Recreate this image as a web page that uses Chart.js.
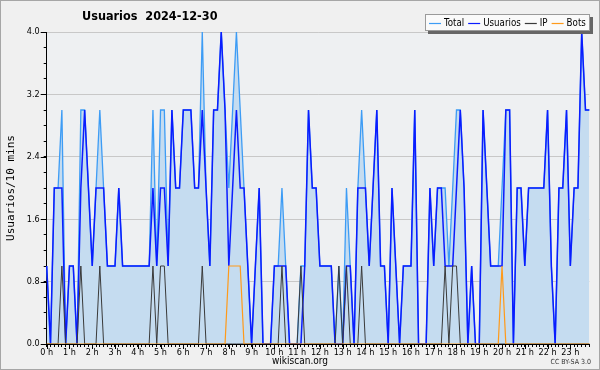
<!DOCTYPE html>
<html><head><meta charset="utf-8">
<script src="https://cdn.jsdelivr.net/npm/chart.js@4.4.1/dist/chart.umd.min.js"></script>
<style>
html,body{margin:0;padding:0;background:#f0f0f0;}
canvas{display:block;}
</style></head><body>
<canvas id="c" width="600" height="370"></canvas>
<script>
const hours = ['0 h','1 h','2 h','3 h','4 h','5 h','6 h','7 h','8 h','9 h','10 h','11 h','12 h','13 h','14 h','15 h','16 h','17 h','18 h','19 h','20 h','21 h','22 h','23 h'];
const slotsPerHour = 6;
const yTickLabels = ['0.0','0.8','1.6','2.4','3.2','4.0'];
const seriesNames = ['Total','Usuarios','IP','Bots'];

const total = [1,0,2,2,3,0,1,1,0,3,3,2,1,2,3,2,1,1,1,2,1,1,1,1,
  1,1,1,1,3,1,3,3,1,3,2,2,3,3,3,2,2,4,2,1,3,3,4,3,
  2,3,4,3,2,1,0,1,2,0,0,0,1,1,2,1,0,0,0,1,1,3,2,2,
  1,1,1,1,0,1,0,2,1,0,2,3,2,1,2,3,1,1,0,2,1,0,1,1,
  1,3,0,0,0,2,1,2,2,2,1,2,3,3,2,0,1,0,0,3,2,1,1,1,
  2,3,3,0,2,2,1,2,2,2,2,2,3,1,0,2,2,3,1,2,2,4,3,3];
const usuarios = [1,0,2,2,2,0,1,1,0,2,3,2,1,2,2,2,1,1,1,2,1,1,1,1,
  1,1,1,1,2,1,2,2,1,3,2,2,3,3,3,2,2,3,2,1,3,3,4,3,
  1,2,3,2,2,1,0,1,2,0,0,0,1,1,1,1,0,0,0,0,1,3,2,2,
  1,1,1,1,0,0,0,1,1,0,2,2,2,1,2,3,1,1,0,2,1,0,1,1,
  1,3,0,0,0,2,1,2,2,1,1,1,2,3,2,0,1,0,0,3,2,1,1,1,
  1,3,3,0,2,2,1,2,2,2,2,2,3,1,0,2,2,3,1,2,2,4,3,3];
const ip = [0,0,0,0,1,0,0,0,0,1,0,0,0,0,1,0,0,0,0,0,0,0,0,0,
  0,0,0,0,1,0,1,1,0,0,0,0,0,0,0,0,0,1,0,0,0,0,0,0,
  0,0,0,0,0,0,0,0,0,0,0,0,0,0,1,0,0,0,0,1,0,0,0,0,
  0,0,0,0,0,1,0,1,0,0,0,1,0,0,0,0,0,0,0,0,0,0,0,0,
  0,0,0,0,0,0,0,0,0,1,0,1,1,0,0,0,0,0,0,0,0,0,0,0,
  0,0,0,0,0,0,0,0,0,0,0,0,0,0,0,0,0,0,0,0,0,0,0,0];
const bots = [0,0,0,0,0,0,0,0,0,0,0,0,0,0,0,0,0,0,0,0,0,0,0,0,
  0,0,0,0,0,0,0,0,0,0,0,0,0,0,0,0,0,0,0,0,0,0,0,0,
  1,1,1,1,0,0,0,0,0,0,0,0,0,0,0,0,0,0,0,0,0,0,0,0,
  0,0,0,0,0,0,0,0,0,0,0,0,0,0,0,0,0,0,0,0,0,0,0,0,
  0,0,0,0,0,0,0,0,0,0,0,0,0,0,0,0,0,0,0,0,0,0,0,0,
  1,0,0,0,0,0,0,0,0,0,0,0,0,0,0,0,0,0,0,0,0,0,0,0];

const slots = [];
hours.forEach(h => { for (let k = 0; k < slotsPerHour; k++) slots.push(h + (k ? ' ' + k * 10 : '')); });

const COLORS = {total:'#3d9cf5', usuarios:'#0a1cff', ip:'#3a3a3a', bots:'#ff9a1a', fill:'#c5dcf0'};
const FONT = '"DejaVu Sans Condensed","DejaVu Sans",sans-serif';

const bgPlugin = {
  id:'bg',
  beforeDraw(chart){
    const {ctx, chartArea:a} = chart;
    ctx.save();
    ctx.fillStyle = '#f0f0f0';
    ctx.fillRect(0,0,chart.width,chart.height);
    ctx.fillStyle = '#eef0f2';
    ctx.fillRect(a.left,a.top,a.right-a.left,a.bottom-a.top);
    ctx.strokeStyle = '#a6a6a6';
    ctx.lineWidth = 1;
    ctx.strokeRect(0.5,0.5,chart.width-1,chart.height-1);
    ctx.restore();
  },
  afterDraw(chart){
    const {ctx, chartArea:a} = chart;
    const ys = chart.scales.y, xs = chart.scales.x;
    ctx.save();
    ctx.strokeStyle = '#000'; ctx.lineWidth = 1;
    for (let k = 0; k < yTickLabels.length; k++) {
      const y = Math.round(ys.getPixelForValue(parseFloat(yTickLabels[k]))) + 0.5;
      ctx.beginPath(); ctx.moveTo(a.left-6, y); ctx.lineTo(a.left, y); ctx.stroke();
    }
    for (let i = 0; i < slots.length; i += slotsPerHour) {
      const x = Math.round(xs.getPixelForValue(i)) + 0.5;
      ctx.beginPath(); ctx.moveTo(x, a.bottom); ctx.lineTo(x, a.bottom+5); ctx.stroke();
    }
    // title
    ctx.fillStyle = '#000';
    ctx.font = 'bold 13px ' + FONT;
    ctx.textBaseline = 'middle'; ctx.textAlign = 'left';
    ctx.save();
    ctx.translate(82, 17); ctx.scale(0.965, 1);
    ctx.fillText('Usuarios  2024-12-30', 0, 0);
    ctx.restore();
    // y title
    ctx.save();
    ctx.translate(11, (a.top+a.bottom)/2);
    ctx.rotate(-Math.PI/2);
    ctx.textAlign = 'center';
    ctx.font = '11px "DejaVu Sans Mono",monospace';
    ctx.fillText('Usuarios/10 mins', 0, 0);
    ctx.restore();
    // footer
    ctx.font = '10px ' + FONT;
    ctx.textAlign = 'center';
    ctx.fillText('wikiscan.org', 300, 361);
    ctx.font = '7px ' + FONT;
    ctx.textAlign = 'right';
    ctx.fillStyle = '#333';
    ctx.fillText('CC BY-SA 3.0', 591, 362);
    // legend
    ctx.font = '11px ' + FONT;
    ctx.textAlign = 'left';
    const sx = 0.88, lineW = 12, gapLT = 3, gapItem = 4;
    const widths = seriesNames.map(n => ctx.measureText(n).width * sx);
    const content = widths.reduce((s, w) => s + w, 0) + seriesNames.length * (lineW + gapLT) + (seriesNames.length - 1) * gapItem;
    const bw = Math.round(content + 8), bh = 17, by = 14, bx = 590 - bw;
    ctx.fillStyle = '#666';
    ctx.fillRect(bx+3, by+3, bw, bh);
    ctx.fillStyle = '#fafafa';
    ctx.fillRect(bx, by, bw, bh);
    ctx.strokeStyle = '#9a9a9a';
    ctx.strokeRect(bx+0.5, by+0.5, bw-1, bh-1);
    const cols = [COLORS.total, COLORS.usuarios, COLORS.ip, COLORS.bots];
    let x = bx + 4;
    const cy = by + bh/2 + 0.5;
    seriesNames.forEach((n, i) => {
      ctx.strokeStyle = cols[i]; ctx.lineWidth = 1.2;
      ctx.beginPath(); ctx.moveTo(x, Math.round(cy)+0.5); ctx.lineTo(x+lineW, Math.round(cy)+0.5); ctx.stroke();
      x += lineW + gapLT;
      ctx.fillStyle = '#000';
      ctx.save(); ctx.translate(x, cy); ctx.scale(sx, 1); ctx.fillText(n, 0, 0); ctx.restore();
      x += widths[i] + gapItem;
    });
    ctx.restore();
  }
};

const ds = (label, data, color, order, extra) => Object.assign({
  label, data, borderColor: color, borderWidth: 1.2, pointRadius: 0, tension: 0, fill: false, order
}, extra || {});

new Chart(document.getElementById('c'), {
  type: 'line',
  data: {
    labels: slots,
    datasets: [
      ds(seriesNames[0], total, COLORS.total, 4, {fill: 'origin', backgroundColor: COLORS.fill, borderWidth: 1.3}),
      ds(seriesNames[1], usuarios, COLORS.usuarios, 3, {borderWidth: 1.5}),
      ds(seriesNames[2], ip, COLORS.ip, 2, {borderWidth: 1}),
      ds(seriesNames[3], bots, COLORS.bots, 1, {borderWidth: 1.2})
    ]
  },
  options: {
    responsive: false,
    devicePixelRatio: 1,
    animation: false,
    layout: {padding: {left: 0, right: 10.7, top: 32, bottom: 0}},
    plugins: {legend: {display: false}, title: {display: false}, tooltip: {enabled: false}},
    scales: {
      x: {
        type: 'category', offset: false,
        afterFit(s){ s.height = 26; },
        border: {display: true, color: '#000', width: 1},
        grid: {drawOnChartArea: false, drawTicks: true, tickLength: 3, tickColor: '#000', offset: false},
        ticks: {autoSkip: false, maxRotation: 0, minRotation: 0, padding: 0, color: '#000',
          font: {family: FONT, size: 9},
          callback: (v, i) => i % slotsPerHour === 0 ? hours[i / slotsPerHour] : ''}
      },
      y: {
        min: 0, max: 4,
        afterFit(s){ s.width = 46.7; },
        border: {display: true, color: '#000', width: 1},
        grid: {drawTicks: true, tickLength: 3, tickColor: '#000',
          color: c => (c.tick && c.tick.value > 0 && Math.round(c.tick.value / 0.2) % 4 === 0) ? '#c8c8c8' : 'rgba(0,0,0,0)'},
        ticks: {stepSize: 0.2, padding: 4, color: '#000', font: {family: FONT, size: 9},
          callback: v => { const k = Math.round(v / 0.2); return k % 4 === 0 ? yTickLabels[k / 4] : ''; }}
      }
    }
  },
  plugins: [bgPlugin]
});
</script>
</body></html>
